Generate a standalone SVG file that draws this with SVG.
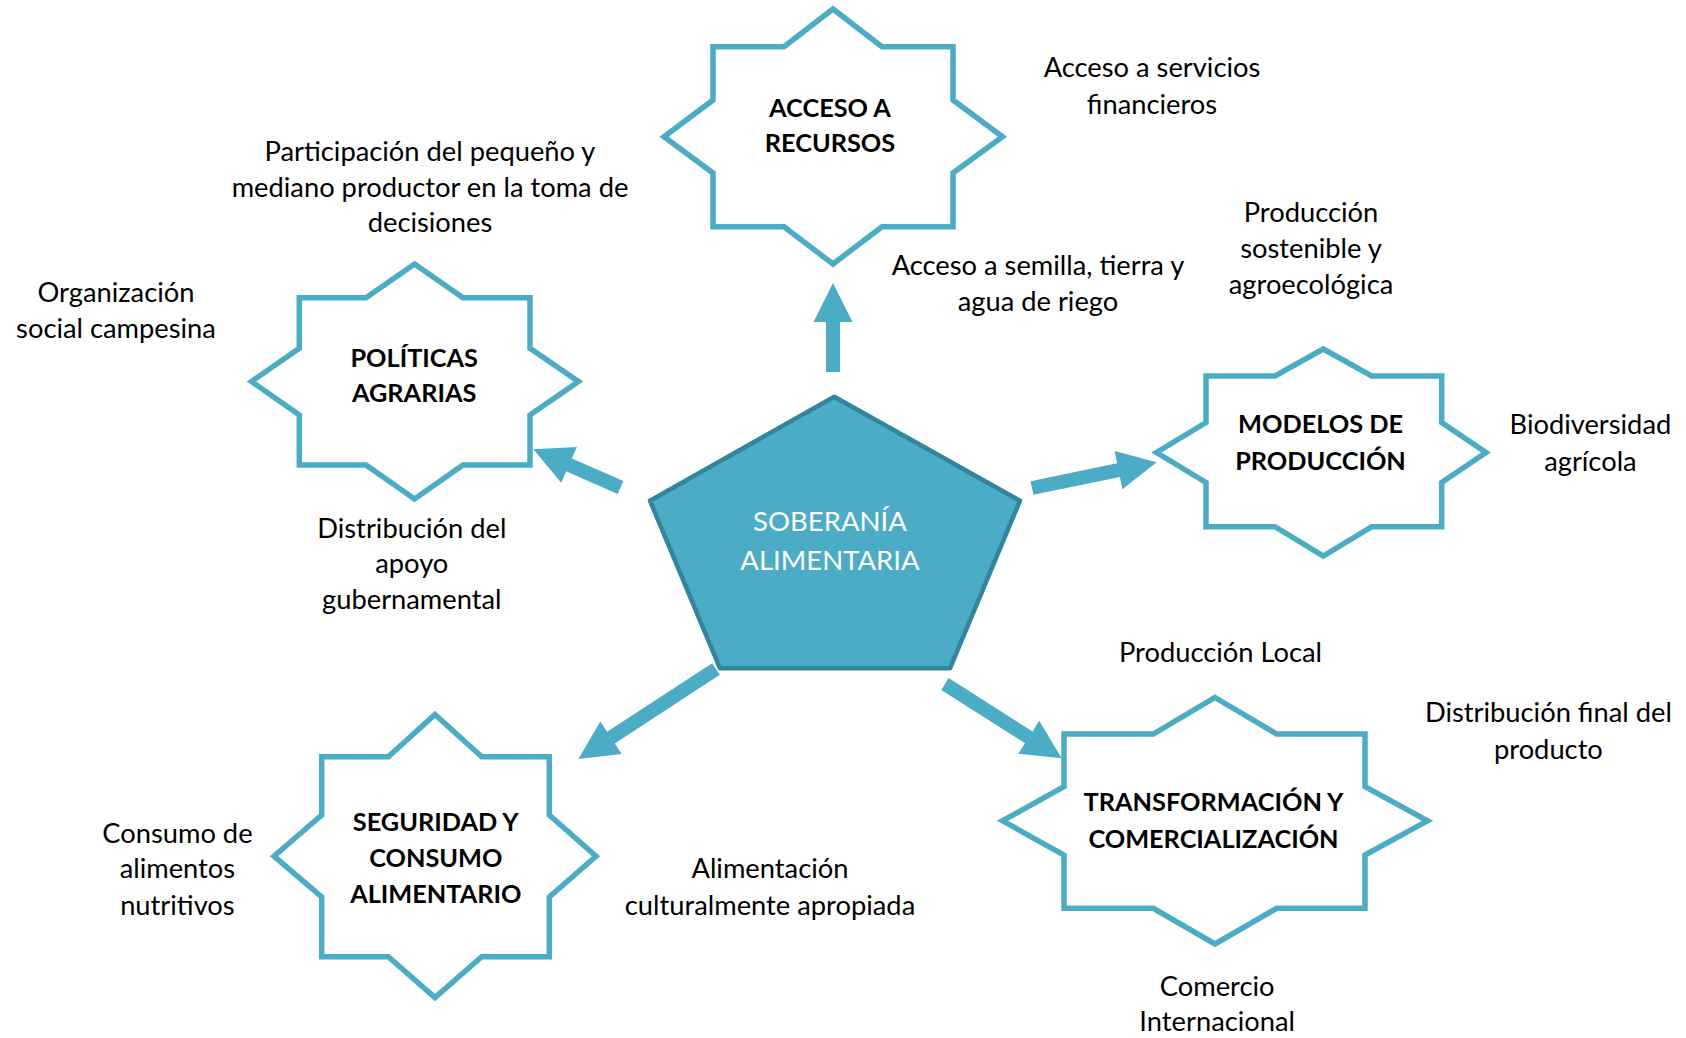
<svg xmlns="http://www.w3.org/2000/svg" width="1686" height="1038" viewBox="0 0 1686 1038">
<style>
.star{fill:#fff;stroke:#4BACC6;stroke-width:5.5;stroke-linejoin:miter}
.pent{fill:#4BACC6;stroke:#31859C;stroke-width:4.5;stroke-linejoin:round}
.arr{fill:#4BACC6}
.lbl{font-family:Lato,"Liberation Sans",sans-serif;font-weight:bold;font-size:25.3px;fill:#000;text-anchor:middle}
.ctr{font-family:Lato,"Liberation Sans",sans-serif;font-size:27.5px;fill:#fff;text-anchor:middle}
.txt{font-family:Lato,"Liberation Sans",sans-serif;font-size:27.3px;fill:#000;text-anchor:middle}
</style>
<rect width="1686" height="1038" fill="#fff"/>
<g id="connectors">
<polygon class="arr" transform="translate(833,372) rotate(-90)" points="0,-7 50,-7 50,-19.5 89,0 50,19.5 50,7 0,7"/>
<polygon class="arr" transform="translate(620.5,487.5) rotate(-156.3)" points="0,-7 56.2,-7 56.2,-19.5 95.2,0 56.2,19.5 56.2,7 0,7"/>
<polygon class="arr" transform="translate(1032,488) rotate(-11.65)" points="0,-7 88.3,-7 88.3,-19.5 127.3,0 88.3,19.5 88.3,7 0,7"/>
<polygon class="arr" transform="translate(716,669) rotate(146.8)" points="0,-7 125.5,-7 125.5,-19.5 164.5,0 125.5,19.5 125.5,7 0,7"/>
<polygon class="arr" transform="translate(945,684) rotate(32.48)" points="0,-7 99.3,-7 99.3,-19.5 138.3,0 99.3,19.5 99.3,7 0,7"/>
</g>
<g id="center">
<polygon class="pent" points="834.3,396.7 1020,500.7 950,668.3 720,668.3 650,500.7"/>
<text class="ctr" x="830" y="531">SOBERANÍA</text>
<text class="ctr" x="830" y="570">ALIMENTARIA</text>
</g>
<g id="acceso">
<polygon class="star" points="833,9 882,46.7 953,46.7 953,100 1002.5,136.7 953,173 953,226.7 882,226.7 833,264 784,226.7 713,226.7 713,173 664,136.7 713,100 713,46.7 784,46.7"/>
<text class="lbl" x="830" y="116.7">ACCESO A</text>
<text class="lbl" x="830" y="151.7">RECURSOS</text>
</g>
<g id="politicas">
<polygon class="star" points="414.5,264 463,297.7 530,297.7 530,348.3 578.5,381.5 530,415 530,465 463,465 414.5,499 366,465 299.3,465 299.3,415 251.5,381.5 299.3,348.3 299.3,297.7 366,297.7"/>
<text class="lbl" x="414.2" y="366.7">POLÍTICAS</text>
<text class="lbl" x="414.2" y="401.7">AGRARIAS</text>
</g>
<g id="modelos">
<polygon class="star" points="1323.3,349 1371.7,376 1441.7,376 1441.7,422.5 1486,452.5 1441.7,482.5 1441.7,526.7 1371.7,526.7 1323.3,556 1275,526.7 1206,526.7 1206,482.5 1156.5,452.5 1206,422.5 1206,376 1275,376"/>
<text class="lbl" x="1320.5" y="433.3">MODELOS DE</text>
<text class="lbl" x="1320.5" y="470">PRODUCCIÓN</text>
</g>
<g id="transformacion">
<polygon class="star" points="1215,697.5 1276.7,734 1365,734 1365,786.7 1427.5,820.8 1365,855 1365,908.3 1276.7,908.3 1215,944 1153.3,908.3 1064,908.3 1064,855 1002.5,820.8 1064,786.7 1064,734 1153.3,734"/>
<text class="lbl" x="1213.5" y="810.7">TRANSFORMACIÓN Y</text>
<text class="lbl" x="1213.5" y="848.3">COMERCIALIZACIÓN</text>
</g>
<g id="seguridad">
<polygon class="star" points="435,714.5 481.7,756.7 549.3,756.7 549.3,815 596,856.2 549.3,897 549.3,956.7 481.7,956.7 435,997.5 388.3,956.7 321.7,956.7 321.7,897 274,856.2 321.7,815 321.7,756.7 388.3,756.7"/>
<text class="lbl" x="435.8" y="830.7">SEGURIDAD Y</text>
<text class="lbl" x="435.8" y="867.3">CONSUMO</text>
<text class="lbl" x="435.8" y="903.3">ALIMENTARIO</text>
</g>
<g id="labels">
<text class="txt" x="1152" y="77">Acceso a servicios</text>
<text class="txt" x="1152" y="113.5">financieros</text>
<text class="txt" x="1038" y="275">Acceso a semilla, tierra y</text>
<text class="txt" x="1038" y="311">agua de riego</text>
<text class="txt" x="1311" y="221.5">Producción</text>
<text class="txt" x="1311" y="257.5">sostenible y</text>
<text class="txt" x="1311" y="293.5">agroecológica</text>
<text class="txt" x="430" y="161">Participación del pequeño y</text>
<text class="txt" x="430" y="197">mediano productor en la toma de</text>
<text class="txt" x="430" y="232">decisiones</text>
<text class="txt" x="116" y="301.7">Organización</text>
<text class="txt" x="116" y="337.5">social campesina</text>
<text class="txt" x="411.8" y="537.5">Distribución del</text>
<text class="txt" x="411.8" y="573">apoyo</text>
<text class="txt" x="411.8" y="608.5">gubernamental</text>
<text class="txt" x="1590.4" y="434.2">Biodiversidad</text>
<text class="txt" x="1590.4" y="470.8">agrícola</text>
<text class="txt" x="1220.5" y="662.2">Producción Local</text>
<text class="txt" x="1548.4" y="722.4">Distribución final del</text>
<text class="txt" x="1548.4" y="759">producto</text>
<text class="txt" x="177.4" y="842.9">Consumo de</text>
<text class="txt" x="177.4" y="878.4">alimentos</text>
<text class="txt" x="177.4" y="914.9">nutritivos</text>
<text class="txt" x="770" y="878.4">Alimentación</text>
<text class="txt" x="770" y="914.9">culturalmente apropiada</text>
<text class="txt" x="1217.2" y="995.5">Comercio</text>
<text class="txt" x="1217.2" y="1031">Internacional</text>
</g>
</svg>
